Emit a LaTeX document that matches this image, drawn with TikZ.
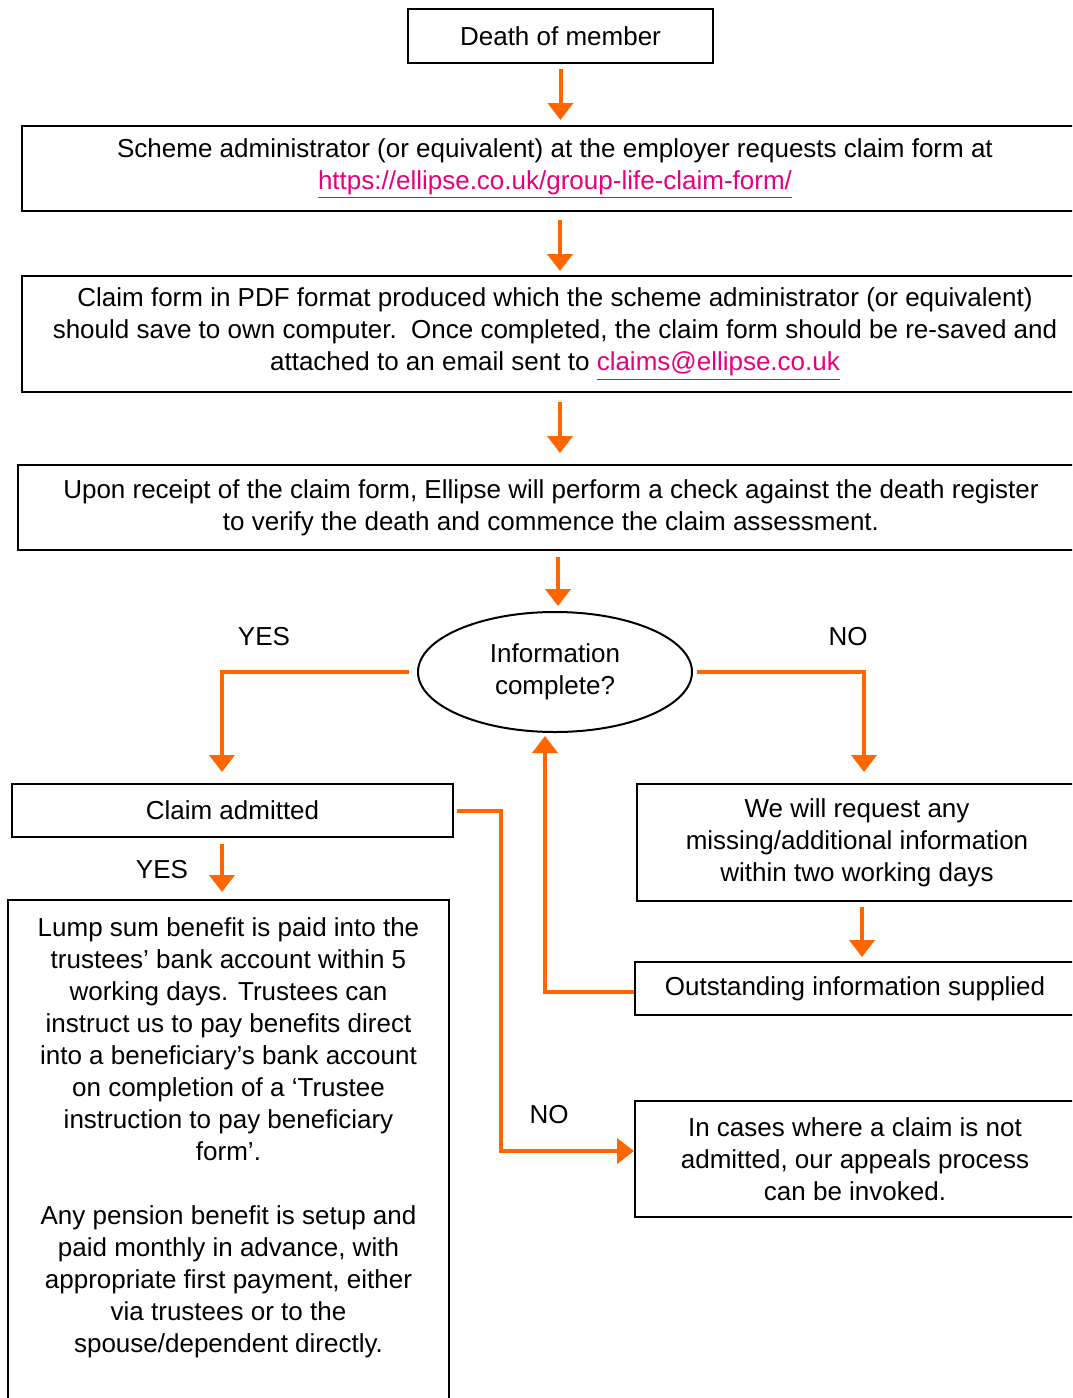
\documentclass[tikz,border=0pt]{standalone}
\usepackage{fontspec}
\setmainfont{Liberation Sans}
\usepackage{tikz}
\usetikzlibrary{arrows.meta, calc}
\usetikzlibrary{shapes.geometric}
\usepackage{xcolor}
\definecolor{ellorange}{RGB}{255,102,0}
\definecolor{elllink}{RGB}{230,0,126}
\newcommand{\weblink}[1]{\textcolor{elllink}{\underline{#1}}}

\begin{document}
\begin{tikzpicture}[x=0.5pt,y=-0.5pt,>={Triangle[width=12.5pt,length=8.5pt]},
  font=\fontsize{13}{16}\selectfont,
  box/.style={draw, line width=1pt, fill=white, align=center, inner sep=0pt},
  flow/.style={->, draw=ellorange, line width=2pt},
  lbl/.style={inner sep=0pt}]

% --- Pagina e ritaglio
\useasboundingbox (0,0) rectangle (1072,1398);
\clip (0,0) rectangle (1072,1398);
\fill[white] (0,0) rectangle (1072,1398);

% ================== Colonna centrale ==================
\node[box, minimum width=152.5pt, minimum height=27pt] (death) at (560.5,36) {Death of member};
\node[box, minimum width=533pt, minimum height=42.5pt] (request) at (555,168.5)
  {Scheme administrator (or equivalent) at the employer requests claim form at\\
   \weblink{https://ellipse.co.uk/group-life-claim-form/}};
\node[box, minimum width=533pt, minimum height=58pt] (pdf) at (555,334)
  {Claim form in PDF format produced which the scheme administrator (or equivalent)\\
   should save to own computer.\ \ Once completed, the claim form should be re-saved and\\
   attached to an email sent to \weblink{claims@ellipse.co.uk}};
\node[box, minimum width=533pt, minimum height=42.5pt] (receipt) at (551,507.5)
  {Upon receipt of the claim form, Ellipse will perform a check against the death register\\
   to verify the death and commence the claim assessment.};
\node[box, ellipse, minimum width=137pt, minimum height=60pt] (info) at (555,672)
  {Information\\ complete?};

% ================== Ramo sinistro ==================
\node[box, minimum width=220.5pt, minimum height=26.5pt] (admitted) at (232.5,810.5) {Claim admitted};
\node[box, minimum width=220.5pt, minimum height=260pt] (payment) at (228.5,1160)
  {Lump sum benefit is paid into the\\ trustees' bank account within 5\\ working days. Trustees can\\
   instruct us to pay benefits direct\\ into a beneficiary's bank account\\ on completion of a `Trustee\\
   instruction to pay beneficiary\\ form'.\\[16pt]
   Any pension benefit is setup and\\ paid monthly in advance, with\\ appropriate first payment, either\\
   via trustees or to the\\ spouse/dependent directly.\\[4pt]\strut};

% ================== Ramo destro ==================
\node[box, minimum width=220pt, minimum height=58.5pt] (missing) at (857,842.5)
  {We will request any\\ missing/additional information\\ within two working days};
\node[box, minimum width=220pt, minimum height=26.5pt] (supplied) at (855,988.5) {Outstanding information supplied};
\node[box, minimum width=220pt, minimum height=58pt] (appeals) at (855,1159)
  {In cases where a claim is not\\ admitted, our appeals process\\ can be invoked.};

% --- Etichette
\node[lbl] (yesA) at (264,637) {YES};
\node[lbl] (noA) at (848,637) {NO};
\node[lbl] (yesB) at (162,870) {YES};
\node[lbl] (noB) at (549,1115) {NO};

% --- Punti di partenza delle frecce
\coordinate (outA) at ($(request.south)+(5,0)$);
\coordinate (outB) at ($(pdf.south)+(5,0)$);
\coordinate (outC) at ($(receipt.south)+(7,0)$);
\coordinate (inL)  at ($(admitted.north)+(-10.5,0)$);
\coordinate (outL) at ($(admitted.south)+(-10.5,0)$);
\coordinate (inR)  at ($(missing.north)+(7,0)$);
\coordinate (outR) at ($(missing.south)+(5,0)$);
\coordinate (back) at ($(supplied.west)+(0,3.5)$);
\coordinate (up)   at ($(info.south)+(-10,0)$);
\coordinate (turn) at ($(admitted.east)+(47,0)$);
\coordinate (appIn) at ($(appeals.west)+(0,-8)$);

% --- Frecce
\draw[flow, shorten <=2.5pt, shorten >=2.5pt] (death.south) -- (death.south |- request.north);
\draw[flow, shorten <=4pt, shorten >=2pt] (outA) -- (outA |- pdf.north);
\draw[flow, shorten <=4.5pt, shorten >=5.5pt] (outB) -- (outB |- receipt.north);
\draw[flow, shorten <=3pt, shorten >=2.5pt] (outC) -- (outC |- info.north);
\draw[flow, shorten <=4pt, shorten >=5.5pt] (info.west) -| (inL);
\draw[flow, shorten <=2pt, shorten >=5.5pt] (info.east) -| (inR);
\draw[flow, shorten <=3pt, shorten >=3.5pt] (outL) -- (outL |- payment.north);
\draw[flow, shorten <=2.5pt, shorten >=2pt] (outR) -- (outR |- supplied.north);
\draw[flow, shorten >=1.5pt] (back) -| (up);
\draw[flow, shorten <=1.5pt] (admitted.east) -- (turn) |- (appIn);

\end{tikzpicture}
\end{document}
